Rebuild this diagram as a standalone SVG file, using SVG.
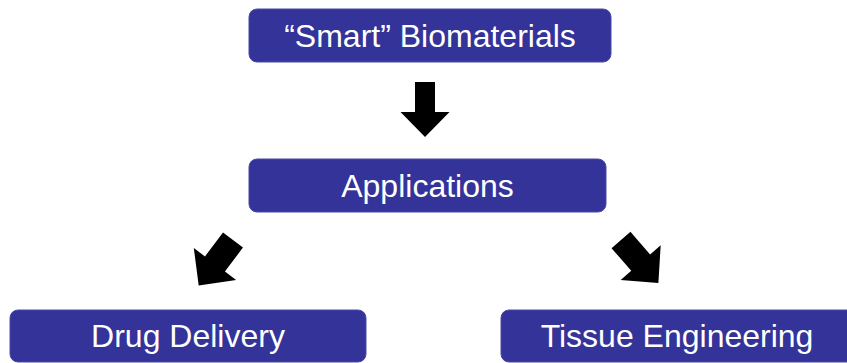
<svg xmlns="http://www.w3.org/2000/svg" width="847" height="363" viewBox="0 0 847 363">
<style>
.box{fill:#333399;stroke:#4a4aa8;stroke-width:1}
.lbl{fill:#ffffff;font-family:"Liberation Sans",Arial,sans-serif;font-size:32px;text-anchor:middle}
.arr{fill:#000000}
</style>
<defs>
<path id="arrowV" d="M-10,0 H10 V30 H24.5 L0,55 L-24.5,30 H-10 Z"/>
<path id="arrowD" d="M-12.5,0 H12.5 V30 H26.5 L0,57 L-26.5,30 H-12.5 Z"/>
</defs>
<g id="connectors">
<use href="#arrowV" class="arr" transform="translate(425,82)"/>
<use href="#arrowD" class="arr" transform="translate(233,240) rotate(37)"/>
<use href="#arrowD" class="arr" transform="translate(621,240) rotate(-41)"/>
</g>
<g id="node-smart">
<rect class="box" x="249" y="9" width="362" height="53" rx="8"/>
<text class="lbl" x="430" y="47">“Smart” Biomaterials</text>
</g>
<g id="node-applications">
<rect class="box" x="249" y="159" width="357" height="53" rx="8"/>
<text class="lbl" x="427.5" y="197">Applications</text>
</g>
<g id="node-drug">
<rect class="box" x="10" y="310" width="356" height="52" rx="8"/>
<text class="lbl" x="188" y="347">Drug Delivery</text>
</g>
<g id="node-tissue">
<rect class="box" x="501" y="310" width="356" height="52" rx="8"/>
<text class="lbl" x="677" y="347">Tissue Engineering</text>
</g>
</svg>
